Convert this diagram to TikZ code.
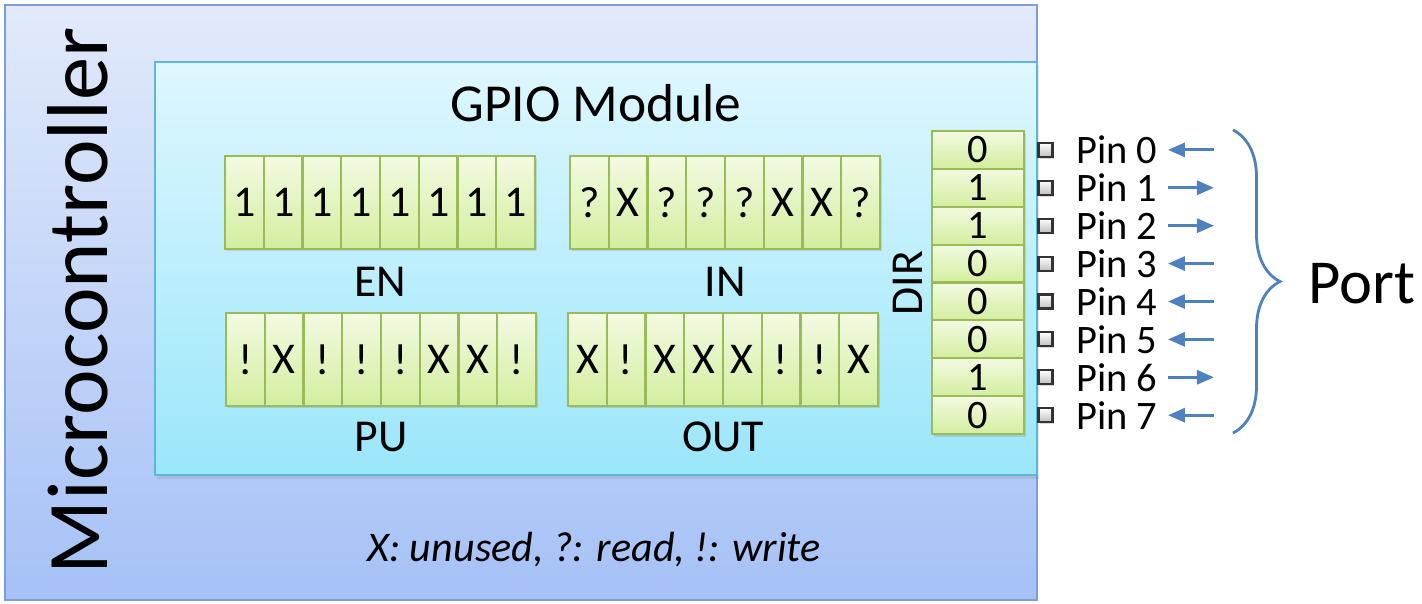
\documentclass[tikz,border=0pt]{standalone}
\usepackage{xcolor}
\usepackage{fontspec}
\setmainfont{Carlito}
\usepackage{tikz}
\usetikzlibrary{shapes,arrows.meta,calc,positioning,shadows,decorations.pathreplacing}

\definecolor{mcutop}{HTML}{E2EAFB}
\definecolor{mcubottom}{HTML}{A5C1F6}
\definecolor{mcuborder}{HTML}{7C9FD6}
\definecolor{gpiotop}{HTML}{DEF7FE}
\definecolor{gpiobottom}{HTML}{9BE6FA}
\definecolor{gpioborder}{HTML}{5DB9D3}
\definecolor{celltop}{HTML}{F3FAE2}
\definecolor{cellbottom}{HTML}{D3EE9E}
\definecolor{cellborder}{HTML}{9BBB59}
\definecolor{portblue}{HTML}{4F81BD}

\begin{document}
\begin{tikzpicture}[pinarrow/.style = {draw=portblue, line width=0.85pt, ->, >={Triangle[length=0.17cm,width=0.14cm]}}, node distance=0.22cm]
		\tikzset{cell/.style={draw=cellborder,line width=0.6pt,rectangle,inner sep=0pt,top color=celltop,bottom color=cellbottom,text centered,drop shadow={opacity=0.25,shadow xshift=0.5pt,shadow yshift=-0.7pt}}}
		\tikzset{regcell/.style={cell,minimum width=0.3875cm,minimum height=0.93cm,font=\fontsize{12.5}{14}\selectfont}}
		\tikzset{dircell/.style={cell,minimum width=0.92cm,minimum height=0.379cm,font=\fontsize{11.5}{13}\selectfont}}
		\tikzset{reglabel/.style={anchor=base,inner sep=0pt,font=\fontsize{13}{15}\selectfont}}
		\tikzset{pinbox/.style={rectangle,draw=black!80,line width=0.6pt,top color=white,bottom color=black!25,minimum size=0.14cm,inner sep=0pt,drop shadow={opacity=0.3,shadow xshift=0.5pt,shadow yshift=-0.5pt}}}
		\tikzset{pintext/.style={inner sep=0pt,font=\fontsize{11.5}{13}\selectfont}}

		\useasboundingbox (0,0) rectangle (14.22,6.04);

		% Microcontroller
		\node[rectangle, draw=mcuborder, line width=0.7pt, top color=mcutop, bottom color=mcubottom, minimum width=10.32cm, minimum height=5.95cm, inner sep=0pt] (mcu) at (5.21,3.015) {};
		\node[rotate=90, anchor=base, inner sep=0pt, font=\fontsize{24.6}{28}\selectfont] (mcutext) at (1.07,3.03) {Microcontroller};

		% GPIO module
		\node[rectangle, draw=gpioborder, line width=0.7pt, top color=gpiotop, bottom color=gpiobottom, minimum width=8.82cm, minimum height=4.13cm, inner sep=0pt, drop shadow={opacity=0.2,shadow xshift=0.5pt,shadow yshift=-1pt}] (gpio) at (5.96,3.355) {};
		\node[anchor=base, inner sep=0pt, font=\fontsize{15.2}{18}\selectfont] (gpiotext) at (5.96,4.82) {GPIO Module};

		% Registers
		\foreach \v [count=\i from 0] in {1,1,1,1,1,1,1,1}
			\node[regcell] (en\i) at (2.444+0.3875*\i,4.015) {\v};
		\foreach \v [count=\i from 0] in {?,X,?,?,?,X,X,?}
			\node[regcell] (in\i) at (5.894+0.3875*\i,4.015) {\v};
		\foreach \v [count=\i from 0] in {!,X,!,!,!,X,X,!}
			\node[regcell] (pu\i) at (2.454+0.3875*\i,2.445) {\v};
		\foreach \v [count=\i from 0] in {X,!,X,X,X,!,!,X}
			\node[regcell] (out\i) at (5.874+0.3875*\i,2.445) {\v};

		\node[reglabel] (enlabel) at (3.80,3.07) {EN};
		\node[reglabel] (inlabel) at (7.25,3.07) {IN};
		\node[reglabel] (pulabel) at (3.81,1.52) {PU};
		\node[reglabel] (outlabel) at (7.23,1.52) {OUT};

		% DIR register
		\foreach \v [count=\i from 0] in {0,1,1,0,0,0,1,0}
			\node[dircell] (dir\i) at (9.78,4.541-0.379*\i) {\v};
		\node[reglabel, rotate=90] (dirlabel) at (9.22,3.21) {DIR};

		% Pins
		\foreach \i/\a/\b in {0/0.56/0.1, 1/0.1/0.56, 2/0.1/0.56, 3/0.56/0.1, 4/0.56/0.1, 5/0.56/0.1, 6/0.1/0.56, 7/0.56/0.1} {
			\node[pinbox] (pb\i) at (10.455,4.541-0.379*\i) {};
			\node[pintext, right=of pb\i] (pt\i) {Pin \i};
			\coordinate (as\i) at ([xshift=\a cm]pt\i.east);
			\coordinate (ae\i) at ([xshift=\b cm]pt\i.east);
			\draw [pinarrow] (as\i) -- (ae\i);
		}

		% Port
		\coordinate (porttop) at (12.33,4.74);
		\coordinate (portbot) at (12.33,1.71);
		\draw [draw=portblue, line width=0.8pt, decorate, decoration={brace, amplitude=0.47cm}] (porttop) -- (portbot);
		\node[anchor=west, inner sep=0pt, font=\fontsize{17.8}{20}\selectfont] (port) at (13.08,3.20) {Port};

		% Legend
		\node[anchor=base, inner sep=0pt, font=\fontsize{12}{14}\selectfont\itshape] (legend) at (5.94,0.42) {X: unused, ?: read, !: write};

	\end{tikzpicture}
\end{document}
